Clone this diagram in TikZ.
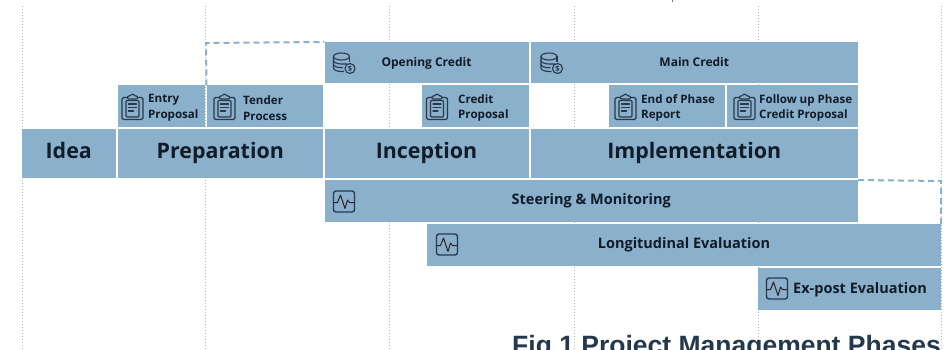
\documentclass[tikz,border=0pt]{standalone}
\usepackage{fontspec}
\setmainfont{Open Sans}
\newfontfamily\capfont{Liberation Sans}
\definecolor{barblue}{HTML}{8BB0CB}
\definecolor{inkdark}{HTML}{101C28}
\definecolor{iconink}{HTML}{27394A}
\definecolor{capblue}{HTML}{24394D}
\newcommand{\pbox}[7][]{%
  \pgfmathsetmacro{\bw}{#5-#3}\pgfmathsetmacro{\bh}{#6-#4}%
  \node[barbox,minimum width=\bw pt,minimum height=\bh pt,#1] (#2) at ({(#3+#5)/2},{(#4+#6)/2}) {#7};}
\tikzset{
  barbox/.style={fill=barblue,draw=none,inner sep=0pt,outer sep=0pt,text=inkdark,font=\bfseries\fontsize{12}{14}\selectfont},
  barlabel/.style={inner sep=0pt,text=inkdark,text height=.72em,text depth=0pt},
  phase/.style={barlabel,font=\bfseries\fontsize{21.4}{24}\selectfont},
  credit/.style={barlabel,font=\bfseries\fontsize{12}{14}\selectfont},
  evalbar/.style={barlabel,font=\bfseries\fontsize{14.5}{17}\selectfont},
  small/.style={anchor=west,inner sep=0pt,align=left,text=inkdark,font=\bfseries\fontsize{11.6}{15.5}\selectfont},
  gridline/.style={draw=black!30,line width=1pt,dotted,line cap=butt},
  dashline/.style={draw=barblue,line width=2pt,dash pattern=on 6pt off 4pt},
  iconline/.style={draw=iconink,line width=1.1pt,line join=round,line cap=round},
  clipboardicon/.pic={
    \draw[iconline,rounded corners=1.5pt,line width=1.3pt] (-10.5,-10) rectangle (10.5,12);
    \draw[iconline,rounded corners=1pt] (-6.5,-7) rectangle (6.5,9.5);
    \filldraw[iconline,fill=barblue,rounded corners=1pt] (-5,-8.5) -- (-5,-11.5) -- (-2,-11.5) -- (-1,-13.5) -- (1,-13.5) -- (2,-11.5) -- (5,-11.5) -- (5,-8.5) -- cycle;
    \draw[iconline] (-4,-3.5) -- (4,-3.5) (-4,0) -- (4,0) (-4,3.5) -- (1,3.5);
  },
  coinsicon/.pic={
    \draw[iconline] (-2.5,-6.5) ellipse[x radius=8,y radius=3.5];
    \draw[iconline] (-10.5,-6.5) -- (-10.5,5) arc[start angle=180,end angle=90,x radius=8,y radius=3.5] -- (-0.5,8.5);
    \draw[iconline] (5.5,-6.5) -- (5.5,-1.5);
    \draw[iconline] (-10.5,-2.5) arc[start angle=180,end angle=90,x radius=8,y radius=3.5] -- (3,1);
    \draw[iconline] (-10.5,1.5) arc[start angle=180,end angle=90,x radius=8,y radius=3.2] -- (-1.5,4.7);
    \draw[iconline] (6,5.5) circle[radius=5];
    \node[inner sep=0pt,text=iconink,font=\bfseries\fontsize{7.5}{7.5}\selectfont] at (6,5.5) {\$};
  },
  pulseicon/.pic={
    \draw[iconline,rounded corners=2.5pt,line width=1.4pt] (-10.5,-10.5) rectangle (10.5,10.5);
    \draw[iconline,line width=1pt,draw=black!85] (-10.5,1) -- (-6.5,1) -- (-3.5,-6.5) -- (1,7) -- (3.5,-1.5) -- (5.5,1) -- (10.5,1);
  }
}
\begin{document}
\begin{tikzpicture}[x=1pt,y=-1pt]
\useasboundingbox (0,0) rectangle (944,350);
\clip (0,0) rectangle (944,350);
\fill[white] (0,0) rectangle (944,350);
% dotted time grid
\foreach \gx/\gn in {22/a,205.5/b,389.5/c,574/d,758/e,941/f}{
  \coordinate (top\gn) at (\gx,6);
  \coordinate (bot\gn) at (\gx,350);
  \draw[gridline] (top\gn) -- (bot\gn);
}
\coordinate (tickA) at (672,0);
\coordinate (tickB) at (672,2);
\draw[draw=black!55,line width=.8pt] (tickA) -- (tickB);
% phases
\pbox{idea}{22}{129}{115.5}{178}{}
\pbox{prep}{117.5}{129}{323}{178}{}
\pbox{incep}{324.5}{129}{528.5}{178}{}
\pbox{impl}{530.5}{129}{858}{178}{}
\node[phase,yshift=-1.5pt] (ideaT) at (idea.center) {Idea};
\node[phase,yshift=-1.5pt] (prepT) at (prep.center) {Preparation};
\node[phase,yshift=-1.5pt] (incepT) at (incep.center) {Inception};
\node[phase,yshift=-1.5pt] (implT) at (impl.center) {Implementation};
% credits
\pbox{open}{324.5}{42}{528.5}{83.5}{}
\pbox{main}{530.5}{42}{858}{83.5}{}
\node[credit] (openT) at (open.center) {Opening Credit};
\node[credit] (mainT) at (main.center) {Main Credit};
\pic at (344,63) {coinsicon};
\pic at (551.5,63) {coinsicon};
% documents
\pbox{entry}{117.5}{85.5}{204.5}{127}{}
\pbox{tender}{206.5}{85.5}{323}{127}{}
\pbox{credit}{421.5}{85.5}{528.5}{127}{}
\pbox{eop}{609}{85.5}{724.5}{127}{}
\pbox{follow}{726.5}{85.5}{858}{127}{}
\pic at (132.5,107.5) {clipboardicon};
\pic at (224.5,107.5) {clipboardicon};
\pic at (437,107.5) {clipboardicon};
\pic at (625.5,107.5) {clipboardicon};
\pic at (744.5,107.5) {clipboardicon};
\node[small] (entryT) at (148,108) {Entry\\Proposal};
\node[small] (tenderT) at (243,108) {Tender\\Process};
\node[small] (creditT) at (458,108) {Credit\\Proposal};
\node[small] (eopT) at (641,108) {End of Phase\\Report};
\node[small] (followT) at (759,108) {Follow up Phase\\Credit Proposal};
% evaluation bars
\pbox{steer}{324.5}{180}{858}{222}{}
\pbox{long}{427}{224}{941}{265.5}{}
\pbox{expost}{758}{268}{941}{309.5}{}
\node[evalbar] (steerT) at (steer.center) {Steering \& Monitoring};
\node[evalbar] (longT) at (long.center) {Longitudinal Evaluation};
\node[evalbar,anchor=west] (expostT) at (793,289.5) {Ex-post Evaluation};
\pic at (344,201.5) {pulseicon};
\pic at (447,244.5) {pulseicon};
\pic at (777,288.5) {pulseicon};
% dashed extensions
\coordinate (dashcornerA) at (206,43);
\draw[dashline] (tender.north west) -- (dashcornerA) -- (open.north west);
\coordinate (dashcornerB) at (941,181);
\draw[dashline] (steer.north east) -- (dashcornerB) -- (long.north east);
% caption
\node[anchor=base west,inner sep=0pt,text=capblue] (caption) at (512,354) {\capfont\bfseries\fontsize{26.5}{30}\selectfont Fig 1 Project Management Phases};
\end{tikzpicture}
\end{document}
